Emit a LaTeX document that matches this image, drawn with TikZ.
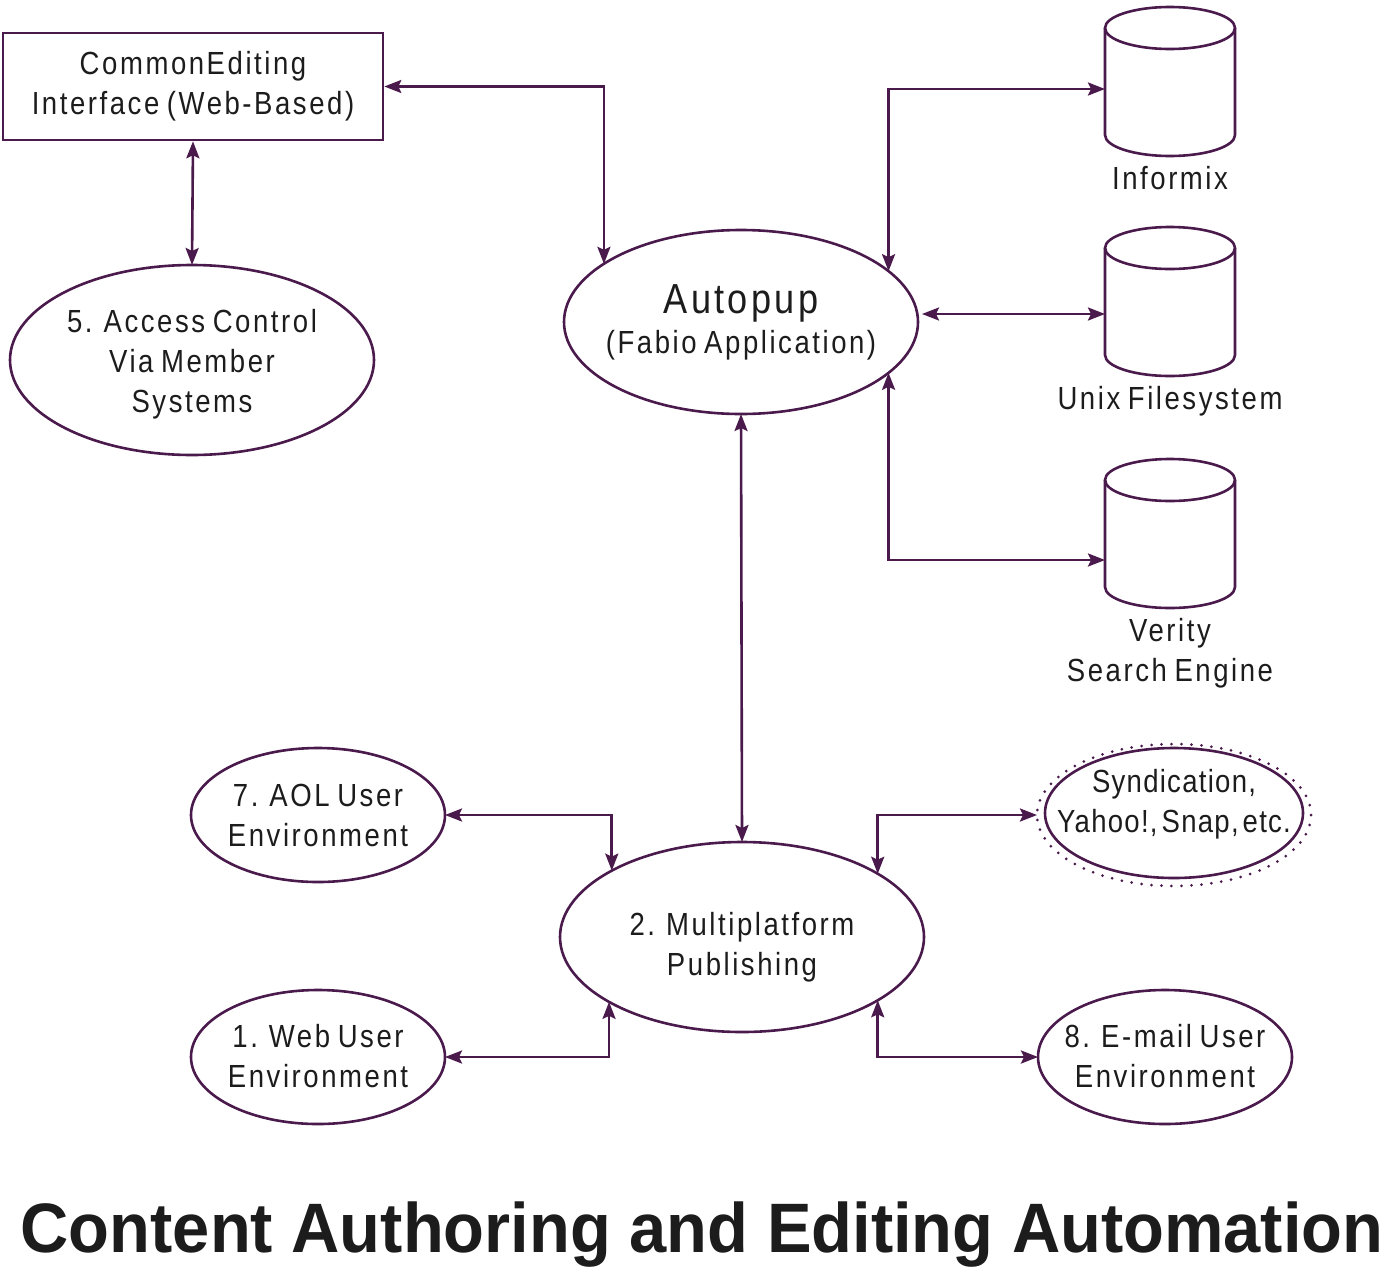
\documentclass[tikz,border=0pt]{standalone}
\usepackage{fontspec}
\setmainfont{Liberation Sans}[FakeStretch=0.86,LetterSpace=8,WordSpace=0.75]
\newfontfamily\synfont{Liberation Sans}[FakeStretch=0.86,LetterSpace=4,WordSpace=0.45]
\newfontfamily\titlefont{Liberation Sans}[FakeStretch=0.955]
\usetikzlibrary{shapes.geometric,arrows.meta,calc}
\definecolor{ln}{HTML}{4A1A4C}
\definecolor{tx}{HTML}{1C1C1C}
\begin{document}
\begin{tikzpicture}[x=1pt,y=1pt,
  lbl/.style={font=\fontsize{32}{40}\selectfont, text=tx, align=center, inner sep=0pt},
  ell/.style={ellipse, draw=ln, line width=2.6pt, inner sep=0pt, outer sep=0pt},
  tip/.tip={Stealth[length=17pt,width=13pt,inset=3pt]},
  conn/.style={draw=ln, line width=2.6pt, tip-tip},
  cyl/.style={draw=ln, line width=2.6pt},
  cylph/.style={inner sep=0pt, outer sep=0pt, minimum width=130pt, minimum height=107pt}
]
\useasboundingbox (0,0) rectangle (1388,-1272);

% nodes
\node[draw=ln, line width=2.6pt, minimum width=380pt, minimum height=107pt, inner sep=0pt, lbl] (cei) at (193,-86.5) {CommonEditing\\Interface (Web-Based)};
\node[ell, minimum width=364pt, minimum height=190pt,
  label={[lbl, yshift=-4pt]center:5. Access Control\\Via Member\\Systems}] (ac) at (192,-360) {};
\node[ell, minimum width=354pt, minimum height=184pt,
  label={[lbl]center:{\fontsize{42}{46}\selectfont Autopup}\\(Fabio Application)}] (ap) at (741,-322) {};
\node[ell, minimum width=364pt, minimum height=190pt,
  label={[lbl, yshift=-10pt]center:2. Multiplatform\\Publishing}] (mp) at (742,-937) {};
\node[ell, minimum width=254pt, minimum height=134pt,
  label={[lbl]center:7. AOL User\\Environment}] (aol) at (318,-815) {};
\node[ell, minimum width=254pt, minimum height=134pt,
  label={[lbl, yshift=1pt]center:1. Web User\\Environment}] (web) at (318,-1057) {};
\node[ell, minimum width=254pt, minimum height=134pt,
  label={[lbl, yshift=1pt]center:8. E-mail User\\Environment}] (eml) at (1165,-1057) {};
\node[ellipse, draw=ln, line width=3pt, dash pattern=on 0pt off 10pt, line cap=round, inner sep=0pt, outer sep=0pt, minimum width=274pt, minimum height=142pt] (synout) at (1174,-815) {};
\node[ell, minimum width=258pt, minimum height=130pt,
  label={[lbl, font=\synfont\fontsize{32}{40}\selectfont, yshift=9pt]center:Syndication,\\Yahoo!, Snap, etc.}] (syn) at (1174,-813) {};

% cylinders
\foreach \T in {28,248,480}{
  \draw[cyl] (1170,-\T) ellipse [x radius=65pt, y radius=21pt];
  \draw[cyl] (1105,-\T) -- (1105,-\T-107) arc[start angle=180, end angle=360, x radius=65pt, y radius=21pt] -- (1235,-\T);
}
\node[cylph] (inf) at (1170,-89) {};
\node[cylph] (unx) at (1170,-314) {};
\node[cylph] (ver) at (1170,-560) {};
\node[lbl] (infl) at (1170,-178) {Informix};
\node[lbl] (unxl) at (1170,-401) {Unix Filesystem};
\node[lbl] (verl) at (1170,-653) {Verity\\Search Engine};

% title
\node[anchor=base, font=\titlefont\bfseries\fontsize{70}{80}\selectfont, text=tx] (title) at (702,-1252) {Content Authoring and Editing Automation};

% connectors
\draw[conn] (cei.east) -| (ap.157.7);
\draw[conn] (cei.south) -- (ac.north);
\draw[conn] (inf.west) -| (ap.19.6);
\draw[conn] (unx.west) -- ($(ap.east |- unx.west)+(4,0)$);
\draw[conn] (ver.west) -| (ap.-19.6);
\draw[conn] (ap.south) -- (mp.north);
\draw[conn] (aol.east) -| (mp.153.8);
\draw[conn] (web.east) -| (mp.206.2);
\draw[conn] (synout.west) -| (mp.25.4);
\draw[conn] (eml.west) -| (mp.-25.4);
\end{tikzpicture}
\end{document}
